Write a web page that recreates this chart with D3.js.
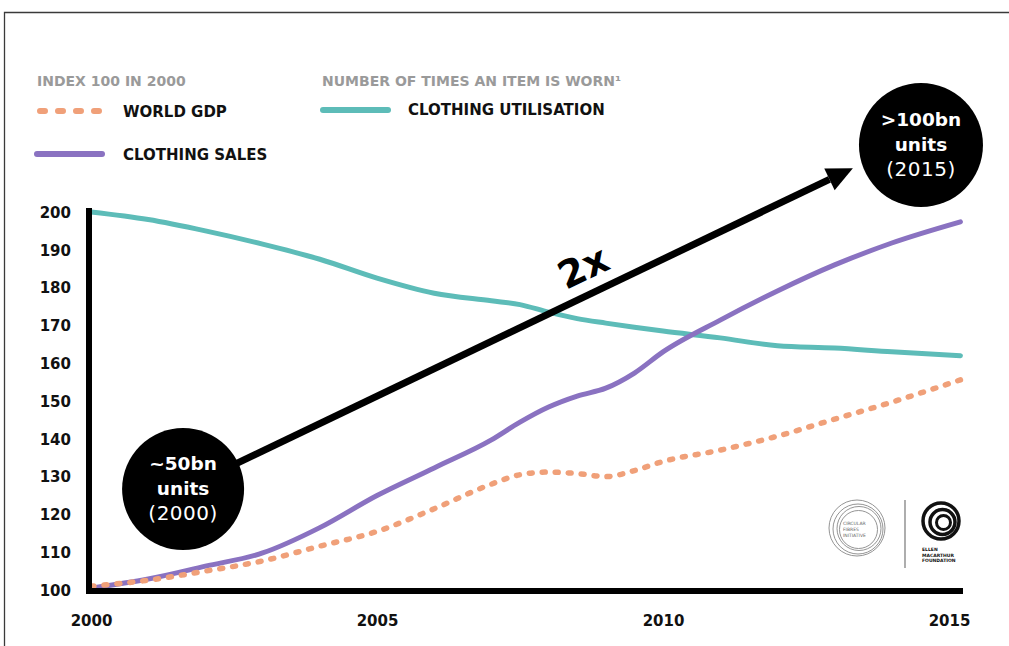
<!DOCTYPE html>
<html>
<head>
<meta charset="utf-8">
<script src="https://cdn.jsdelivr.net/npm/d3@7/dist/d3.min.js"></script>
<style>
  html, body { margin: 0; padding: 0; background: #fff; }
  svg { display: block; }
  text { font-family: "DejaVu Sans", sans-serif; }
</style>
</head>
<body>
<svg id="chart" width="1009" height="646"></svg>
<script>
// ---------- DATA ----------
const years       = [2000, 2001, 2002, 2003, 2004, 2005, 2006, 2007, 2007.5, 2008, 2008.5, 2009, 2009.5, 2010, 2011, 2012, 2013, 2014, 2015.2];
const clothingSales = [100.5, 102.9, 106.3, 109.8, 116.5, 125, 132.3, 139.7, 144.4, 148.4, 151.3, 153.4, 157.4, 163, 171.4, 179.1, 186, 191.8, 197.4];
const worldGDP      = [101, 102.6, 105, 107.7, 111.6, 115.5, 121.5, 128, 130.5, 131.2, 130.8, 130, 131.6, 134, 137, 140.7, 145.2, 149.7, 155.6];
const utilisation   = [200, 198, 195, 191.5, 187.5, 182.5, 178.5, 176.5, 175.5, 173.5, 171.8, 170.6, 169.5, 168.5, 166.7, 164.6, 164, 163, 162];
const yTicks = [100, 110, 120, 130, 140, 150, 160, 170, 180, 190, 200];
const xTicks = [2000, 2005, 2010, 2015];
const legendLeftTitle  = "INDEX 100 IN 2000";
const legendRightTitle = "NUMBER OF TIMES AN ITEM IS WORN\u00B9";
const seriesNames = ["WORLD GDP", "CLOTHING SALES", "CLOTHING UTILISATION"];
// annotation bubbles: [year, index value] of centre and text lines
const bubbleStart = { year: 2001.61, value: 126.7, lines: ["~50bn", "units", "(2000)"] };
const bubbleEnd   = { year: 2014.51, value: 217.7, lines: [">100bn", "units", "(2015)"] };
const arrowTip    = { year: 2013.32, value: 211.6 };
const arrowLabel  = "2x";

// ---------- STYLE ----------
const C = { teal: "#5dbcb8", purple: "#8a72c1", orange: "#f0a079", grey: "#9a9a9a" };

const svg = d3.select("#chart");
const x = d3.scaleLinear().domain([2000, 2015]).range([91, 949]);
const y = d3.scaleLinear().domain([100, 200]).range([590, 212]);

// frame
svg.append("path").attr("d", "M4.5,646 V12.5 H1009").attr("fill", "none")
   .attr("stroke", "#3a3a3a").attr("stroke-width", 1.3);

// legend
svg.append("text").attr("x", 37).attr("y", 86).text(legendLeftTitle)
   .attr("fill", C.grey).attr("font-weight", 700).attr("font-size", 14);
svg.append("text").attr("x", 322).attr("y", 86).text(legendRightTitle)
   .attr("fill", C.grey).attr("font-weight", 700).attr("font-size", 14);

svg.append("line").attr("x1", 40).attr("x2", 100).attr("y1", 111).attr("y2", 111)
   .attr("stroke", C.orange).attr("stroke-width", 6).attr("stroke-linecap", "round")
   .attr("stroke-dasharray", "5 13");
svg.append("line").attr("x1", 37).attr("x2", 102).attr("y1", 154).attr("y2", 154)
   .attr("stroke", C.purple).attr("stroke-width", 6).attr("stroke-linecap", "round");
svg.append("line").attr("x1", 323).attr("x2", 388).attr("y1", 110).attr("y2", 110)
   .attr("stroke", C.teal).attr("stroke-width", 6).attr("stroke-linecap", "round");

const legText = (tx, ty, s) => svg.append("text").attr("x", tx).attr("y", ty).text(s)
   .attr("fill", "#111").attr("font-weight", 700).attr("font-size", 15);
legText(123, 117, seriesNames[0]);
legText(123, 160, seriesNames[1]);
legText(408, 115, seriesNames[2]);

// axes labels
const yAxis = svg.append("g").attr("transform", "translate(71,0)")
   .call(d3.axisLeft(y).tickValues(yTicks).tickSize(0).tickPadding(0));
const xAxis = svg.append("g").attr("transform", "translate(0,612)")
   .call(d3.axisBottom(x).tickValues(xTicks).tickFormat(d3.format("d")).tickSize(0).tickPadding(0));
[yAxis, xAxis].forEach(g => {
  g.select(".domain").remove();
  g.selectAll("text").attr("font-family", "'DejaVu Sans', sans-serif").attr("font-weight", 700)
    .attr("font-size", 15).attr("fill", "#111");
});
yAxis.selectAll("text").attr("dy", "0.35em");
xAxis.selectAll("text").attr("dy", "0.9em");

// series
const line = vals => d3.line().x((d, i) => x(years[i])).y(d => y(d)).curve(d3.curveMonotoneX)(vals);
svg.append("path").attr("d", line(utilisation)).attr("fill", "none")
   .attr("stroke", C.teal).attr("stroke-width", 5).attr("stroke-linecap", "round");
svg.append("path").attr("d", line(clothingSales)).attr("fill", "none")
   .attr("stroke", C.purple).attr("stroke-width", 5).attr("stroke-linecap", "round");
svg.append("path").attr("d", line(worldGDP)).attr("fill", "none")
   .attr("stroke", C.orange).attr("stroke-width", 5.5).attr("stroke-linecap", "round")
   .attr("stroke-dasharray", "3 10");

// axis lines
svg.append("line").attr("x1", 89).attr("x2", 89).attr("y1", 208).attr("y2", 593)
   .attr("stroke", "#000").attr("stroke-width", 6);
svg.append("line").attr("x1", 86).attr("x2", 963).attr("y1", 591).attr("y2", 591)
   .attr("stroke", "#000").attr("stroke-width", 6);

// arrow
const ax1 = x(bubbleStart.year), ay1 = y(bubbleStart.value);
const ax2 = x(arrowTip.year), ay2 = y(arrowTip.value);
const ang = Math.atan2(ay2 - ay1, ax2 - ax1);
const headLen = 26, headW = 12;
const bx = ax2 - headLen * Math.cos(ang), by = ay2 - headLen * Math.sin(ang);
svg.append("line").attr("x1", ax1).attr("y1", ay1).attr("x2", bx).attr("y2", by)
   .attr("stroke", "#000").attr("stroke-width", 7);
svg.append("path").attr("fill", "#000").attr("d",
  `M${ax2},${ay2} L${bx + headW * Math.sin(ang)},${by - headW * Math.cos(ang)} L${bx - headW * Math.sin(ang)},${by + headW * Math.cos(ang)} Z`);
const frac = 0.615, off = 14;
const mx = ax1 + (ax2 - ax1) * frac + off * Math.sin(ang), my = ay1 + (ay2 - ay1) * frac - off * Math.cos(ang);
svg.append("text").attr("transform", `translate(${mx},${my}) rotate(${ang * 180 / Math.PI})`)
   .attr("text-anchor", "middle").attr("font-weight", 700).attr("font-size", 38).attr("fill", "#000")
   .text(arrowLabel);

// bubbles
[[bubbleStart, 61], [bubbleEnd, 62]].forEach(([b, r]) => {
  const cx = x(b.year), cy = y(b.value);
  svg.append("circle").attr("cx", cx).attr("cy", cy).attr("r", r).attr("fill", "#000");
  b.lines.forEach((s, i) => {
    svg.append("text").attr("x", cx).attr("y", cy - 26 + i * 25 + 7).attr("text-anchor", "middle")
      .attr("fill", "#fff").attr("font-size", i < 2 ? 18.5 : 20).attr("font-weight", i < 2 ? 700 : 400)
      .attr("letter-spacing", i < 2 ? 0 : 0.5).text(s);
  });
});

// logos
const lg = svg.append("g");
[[28, 0, 0], [25, 1, 1], [22, 2, 0.5], [19, 1.5, 1.5]].forEach(([r, dx, dy]) => {
  lg.append("circle").attr("cx", 857 + dx).attr("cy", 528 + dy).attr("r", r)
    .attr("fill", "none").attr("stroke", "#888").attr("stroke-width", 0.9);
});
["CIRCULAR", "FIBRES", "INITIATIVE"].forEach((s, i) => {
  lg.append("text").attr("x", 843).attr("y", 525 + i * 6).attr("font-size", 4.5).attr("fill", "#666").text(s);
});
lg.append("line").attr("x1", 905).attr("x2", 905).attr("y1", 500).attr("y2", 568)
  .attr("stroke", "#777").attr("stroke-width", 1.2);
[[18, 3.5, 0, 0], [12.5, 3.5, 1.5, 1], [7, 3, 2.5, 1.5]].forEach(([r, w, dx, dy]) => {
  lg.append("circle").attr("cx", 941 + dx).attr("cy", 521 + dy).attr("r", r)
    .attr("fill", "none").attr("stroke", "#111").attr("stroke-width", w);
});
["ELLEN", "MACARTHUR", "FOUNDATION"].forEach((s, i) => {
  lg.append("text").attr("x", 922).attr("y", 551 + i * 5.5).attr("font-size", 4.5).attr("font-weight", 700)
    .attr("fill", "#111").text(s);
});
</script>
</body>
</html>
